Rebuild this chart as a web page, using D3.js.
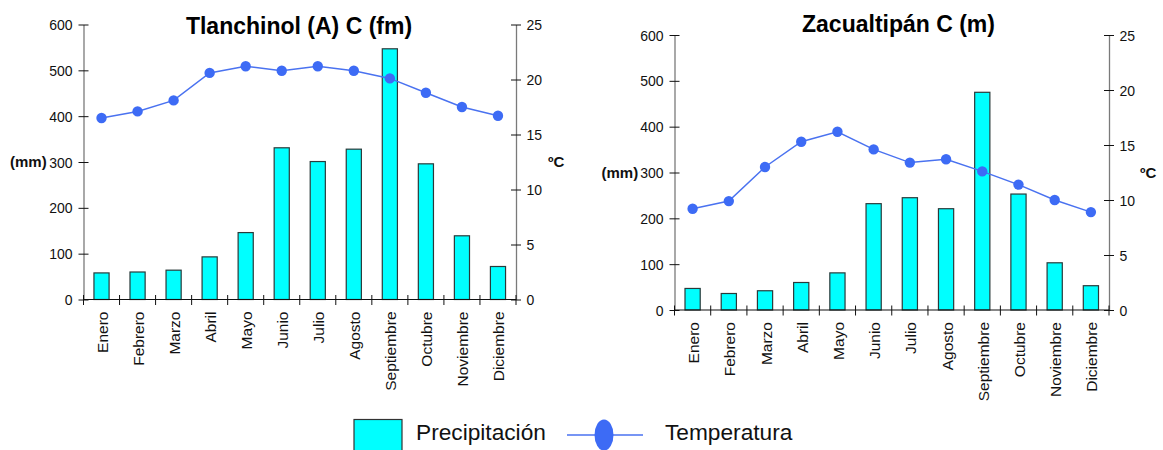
<!DOCTYPE html>
<html>
<head>
<meta charset="utf-8">
<script src="https://cdnjs.cloudflare.com/ajax/libs/d3/7.8.5/d3.min.js"></script>
<style>
body { margin: 0; background: #fff; }
svg { display: block; font-family: Arial, "Liberation Sans", sans-serif; }
</style>
</head>
<body>
<svg id="chart" width="1163" height="450"></svg>
<script>
var months = ["Enero", "Febrero", "Marzo", "Abril", "Mayo", "Junio", "Julio",
	"Agosto", "Septiembre", "Octubre", "Noviembre", "Diciembre"]

// Tlanchinol
var tlanPrecip = [58, 60, 64, 93, 146, 331, 301, 328, 547, 296, 139, 72]
var tlanTemp = [16.5, 17.1, 18.1, 20.6, 21.2, 20.8, 21.2, 20.8, 20.1, 18.8, 17.5, 16.7]

// Zacualtipan
var zacPrecip = [47, 36, 42, 60, 81, 232, 245, 221, 475, 253, 103, 53]
var zacTemp = [9.2, 9.9, 13.0, 15.3, 16.2, 14.6, 13.4, 13.7, 12.6, 11.4, 10.0, 8.9]

var precipTicks = [0, 100, 200, 300, 400, 500, 600]
var tempTicks = [0, 5, 10, 15, 20, 25]

var svg = d3.select("#chart")

var barColor = "#00ffff"
var barStroke = "#2a3a3a"
var lineColor = "#4a72f0"
var dotColor = "#3d6bf5"
var vAxisColor = "#7a7a7a"

function drawChart(cfg){
	var g = svg.append("g")
	var x = d3.scaleBand().domain(months)
		.range([cfg.x0, cfg.x1])
		.paddingInner(0.58).paddingOuter(0.29)
	var yP = d3.scaleLinear().domain([0, 600]).range([cfg.y0, cfg.y1])
	var yT = d3.scaleLinear().domain([0, 25]).range([cfg.y0, cfg.y1])
	var step = x.step()

	//bars
	g.selectAll("rect.bar").data(cfg.precip).enter()
		.append("rect")
		.attr("class", "bar")
		.attr("x", function(d, i){ return x(months[i]) })
		.attr("y", function(d){ return yP(d) })
		.attr("width", x.bandwidth())
		.attr("height", function(d){ return yP(0) - yP(d) })
		.style("fill", barColor)
		.style("stroke", barStroke)
		.style("stroke-width", 1.2)

	//left axis
	var left = g.append("g")
		.attr("transform", "translate(" + cfg.x0 + ",0)")
		.call(d3.axisLeft(yP).tickValues(precipTicks).tickSizeInner(5).tickSizeOuter(0).tickPadding(6))
	left.selectAll("line").attr("x1", 5).attr("x2", -5)

	//right axis
	var right = g.append("g")
		.attr("transform", "translate(" + cfg.x1 + ",0)")
		.call(d3.axisRight(yT).tickValues(tempTicks).tickSizeInner(5).tickSizeOuter(0).tickPadding(5.5))
	right.selectAll("line").attr("x1", -5).attr("x2", 5)

	;[left, right].forEach(function(a){
		a.select(".domain").attr("stroke", vAxisColor).attr("stroke-width", 1.3)
		a.selectAll("line").attr("stroke", "#111")
		a.selectAll("text").attr("fill", "#111").style("font-size", "14px")
			.attr("dy", "0.36em")
	})

	//bottom axis with ticks on band edges
	var bottom = g.append("g")
	bottom.append("line")
		.attr("x1", cfg.x0).attr("x2", cfg.x1)
		.attr("y1", cfg.y0).attr("y2", cfg.y0)
		.attr("stroke", "#111").attr("stroke-width", 1.2)
	bottom.selectAll("line.tk").data(d3.range(months.length + 1)).enter()
		.append("line")
		.attr("class", "tk")
		.attr("x1", function(i){ return cfg.x0 + i * step })
		.attr("x2", function(i){ return cfg.x0 + i * step })
		.attr("y1", cfg.y0 - 4.5).attr("y2", cfg.y0 + 5.5)
		.attr("stroke", "#111")
	bottom.selectAll("text").data(months).enter()
		.append("text")
		.attr("transform", function(d){
			return "translate(" + (x(d) + x.bandwidth() / 2) + "," + (cfg.y0 + 12) + ") rotate(-90)"
		})
		.attr("text-anchor", "end")
		.attr("dy", "0.42em")
		.style("font-size", "15.5px")
		.attr("fill", "#111")
		.text(function(d){ return d })

	//temperature line
	var line = d3.line()
		.x(function(d, i){ return x(months[i]) + x.bandwidth() / 2 })
		.y(function(d){ return yT(d) })
	g.append("path")
		.datum(cfg.temp)
		.attr("d", line)
		.attr("fill", "none")
		.attr("stroke", lineColor)
		.attr("stroke-width", 1.5)
	g.selectAll("circle").data(cfg.temp).enter()
		.append("circle")
		.attr("cx", function(d, i){ return x(months[i]) + x.bandwidth() / 2 })
		.attr("cy", function(d){ return yT(d) })
		.attr("r", 5.2)
		.attr("fill", dotColor)

	//titles
	g.append("text")
		.attr("x", cfg.titleX).attr("y", cfg.titleY)
		.attr("text-anchor", "middle")
		.style("font-size", "23px").style("font-weight", "bold")
		.attr("fill", "#000")
		.text(cfg.title)
	g.append("text")
		.attr("x", cfg.mmX).attr("y", yP(300))
		.attr("dy", "0.36em")
		.style("font-size", "15px").style("font-weight", "bold")
		.attr("fill", "#111")
		.text("(mm)")
	g.append("text")
		.attr("x", cfg.cX).attr("y", yP(300))
		.attr("dy", "0.36em")
		.style("font-size", "15px").style("font-weight", "bold")
		.attr("fill", "#111")
		.text("ºC")
}

drawChart({
	title: "Tlanchinol (A) C (fm)",
	precip: tlanPrecip, temp: tlanTemp,
	x0: 83.5, x1: 516, y0: 299.5, y1: 24.5,
	titleX: 299, titleY: 34,
	mmX: 10, cX: 548
})

drawChart({
	title: "Zacualtipán C (m)",
	precip: zacPrecip, temp: zacTemp,
	x0: 674.5, x1: 1109, y0: 310, y1: 35,
	titleX: 898.5, titleY: 32,
	mmX: 601.5, cX: 1140
})

//legend
var legend = svg.append("g")
legend.append("rect")
	.attr("x", 354).attr("y", 419.5)
	.attr("width", 48).attr("height", 40)
	.style("fill", barColor)
	.style("stroke", "#333")
	.style("stroke-width", 1.2)
legend.append("text")
	.attr("x", 416).attr("y", 440)
	.style("font-size", "22.7px")
	.attr("fill", "#111")
	.text("Precipitación")
legend.append("line")
	.attr("x1", 567).attr("x2", 643)
	.attr("y1", 435).attr("y2", 435)
	.attr("stroke", lineColor).attr("stroke-width", 1.5)
legend.append("ellipse")
	.attr("cx", 604).attr("cy", 435)
	.attr("rx", 9.5).attr("ry", 15.5)
	.attr("fill", dotColor)
legend.append("text")
	.attr("x", 665).attr("y", 440)
	.style("font-size", "22.7px")
	.attr("fill", "#111")
	.text("Temperatura")
</script>
</body>
</html>
